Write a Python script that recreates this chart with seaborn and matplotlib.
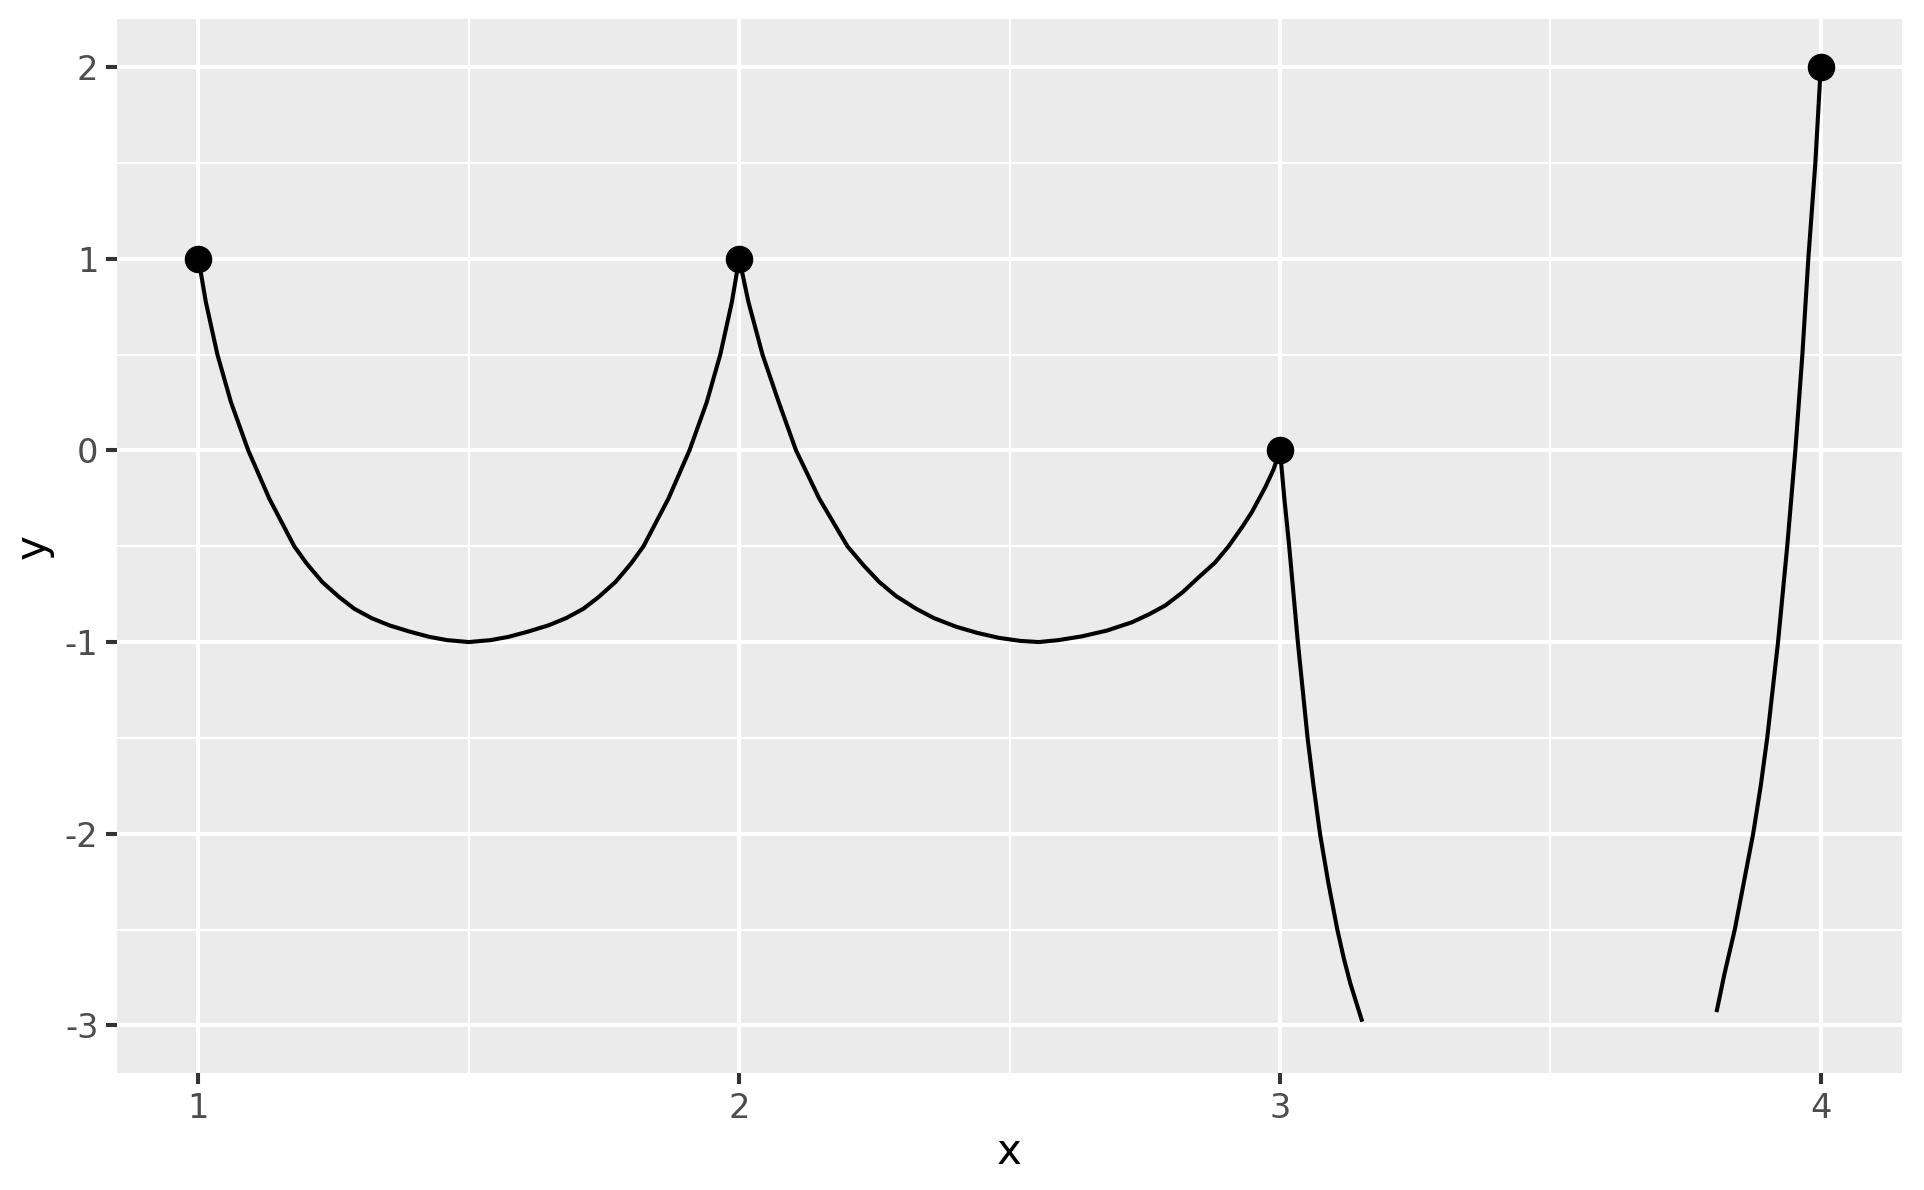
import numpy as np
import pandas as pd
import seaborn as sns
import matplotlib.pyplot as plt

# data points
pt_x = [1, 2, 3, 4]
pt_y = [1, 1, 0, 2]

# curve, one list per piece (cut at y = -3)
seg1_x = [1.0, 1.0136, 1.035, 1.060, 1.092, 1.131, 1.177, 1.2, 1.229, 1.26, 1.288, 1.32, 1.353,
          1.39, 1.427, 1.46, 1.5, 1.54, 1.573, 1.61, 1.647, 1.68, 1.712, 1.74, 1.771, 1.8,
          1.823, 1.869, 1.908, 1.94, 1.965, 1.9864, 2.0]
seg1_y = [1, 0.774, 0.5, 0.252, 0, -0.252, -0.5, -0.59, -0.687, -0.765, -0.826, -0.875, -0.913,
          -0.945, -0.973, -0.99, -1, -0.99, -0.973, -0.945, -0.913, -0.875, -0.826, -0.765,
          -0.687, -0.59, -0.5, -0.252, 0, 0.252, 0.5, 0.774, 1]
seg2_x = [2.0, 2.017, 2.043, 2.073, 2.105, 2.148, 2.200, 2.23, 2.259, 2.29, 2.327, 2.36, 2.401,
          2.44, 2.48, 2.52, 2.554, 2.59, 2.634, 2.68, 2.726, 2.758, 2.788, 2.82, 2.850, 2.88,
          2.905, 2.93, 2.948, 2.973, 2.988, 3.0]
seg2_y = [1, 0.774, 0.5, 0.252, 0, -0.252, -0.5, -0.60, -0.687, -0.76, -0.826, -0.875, -0.92,
          -0.952, -0.978, -0.994, -1, -0.99, -0.97, -0.94, -0.897, -0.855, -0.809, -0.74,
          -0.661, -0.585, -0.5, -0.40, -0.322, -0.191, -0.10, 0]
seg3_x = [3.0, 3.008, 3.017, 3.025, 3.033, 3.042, 3.051, 3.062, 3.074, 3.089, 3.106, 3.118,
          3.13, 3.141, 3.151]
seg3_y = [0, -0.25, -0.5, -0.75, -1, -1.25, -1.5, -1.75, -2, -2.25, -2.5, -2.65, -2.78,
          -2.88, -2.97]
seg4_x = [3.808, 3.822, 3.841, 3.858, 3.875, 3.889, 3.901, 3.911, 3.921, 3.938, 3.953, 3.966,
          3.977, 3.99, 4.0]
seg4_y = [-2.92, -2.73, -2.5, -2.25, -2, -1.75, -1.5, -1.25, -1, -0.5, 0, 0.5, 1, 1.5, 2]

curve = pd.concat([
    pd.DataFrame({"x": sx, "y": sy, "piece": i})
    for i, (sx, sy) in enumerate([(seg1_x, seg1_y), (seg2_x, seg2_y),
                                  (seg3_x, seg3_y), (seg4_x, seg4_y)])
])
points = pd.DataFrame({"x": pt_x, "y": pt_y})

fig = plt.figure(figsize=(1924 / 275, 1190 / 275), dpi=275)
ax = fig.add_axes([0.061, 0.098, 0.9275, 0.886])
ax.set_facecolor("#EBEBEB")

sns.lineplot(data=curve, x="x", y="y", units="piece", estimator=None, sort=False,
             color="black", linewidth=1.07, ax=ax, zorder=3)
sns.scatterplot(data=points, x="x", y="y", color="black", s=52, linewidth=0, ax=ax, zorder=4)

ax.set_xlim(0.85, 4.15)
ax.set_ylim(-3.25, 2.25)
ax.set_xticks([1, 2, 3, 4])
ax.set_yticks([-3, -2, -1, 0, 1, 2])
ax.set_xticks([1.5, 2.5, 3.5], minor=True)
ax.set_yticks([-2.5, -1.5, -0.5, 0.5, 1.5], minor=True)
ax.set_xticklabels(["1", "2", "3", "4"])
ax.set_yticklabels(["-3", "-2", "-1", "0", "1", "2"])
ax.grid(which="major", color="white", linewidth=1.07)
ax.grid(which="minor", color="white", linewidth=0.53)
ax.set_axisbelow(True)
for s in ax.spines.values():
    s.set_visible(False)
ax.tick_params(which="major", length=2.75, width=1.07, color="#333333",
               labelsize=8.8, labelcolor="#4D4D4D", pad=2.2)
ax.tick_params(which="minor", length=0)
ax.set_xlabel("x", fontsize=11, labelpad=1.5)
ax.set_ylabel("y", fontsize=11, labelpad=3)

fig.savefig("out.png", dpi=275)
